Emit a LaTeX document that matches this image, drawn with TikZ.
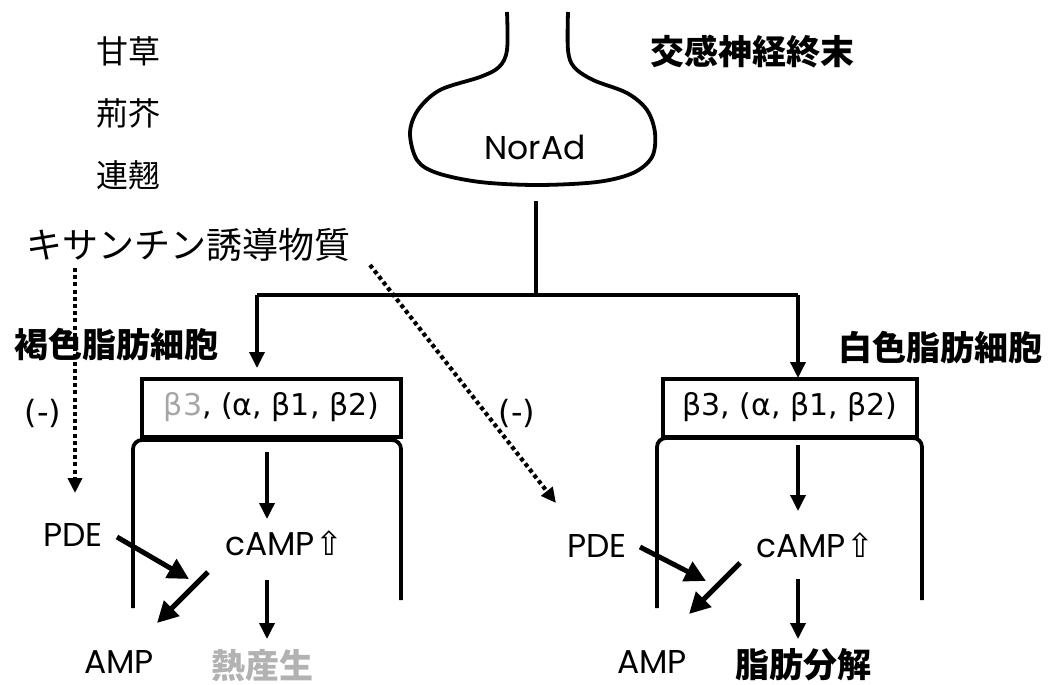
\documentclass[tikz,border=0pt]{standalone}
\usepackage{fontspec}
\usetikzlibrary{arrows.meta}
\newfontfamily\jp{Noto Sans CJK JP}
\newfontfamily\lat{Poppins}
\newfontfamily\dv{DejaVu Sans}
\tikzset{
  wall/.style={line width=3.8pt},
  arr/.style={line width=3.5pt,-{Triangle[length=16pt,width=15pt]}},
  bigarr/.style={line width=5pt,-{Triangle[length=21pt,width=21pt]}},
  dotarr/.style={line width=4.2pt,dash pattern=on 4pt off 3.2pt,-{Triangle[length=15pt,width=14pt]}},
  jptxt/.style={font=\jp\fontsize{32}{32}\selectfont, inner sep=0pt},
  jpbold/.style={font=\jp\bfseries\fontsize{34}{34}\selectfont, inner sep=0pt},
  lab/.style={font=\lat\fontsize{33}{33}\selectfont, inner sep=0pt},
  minus/.style={font=\dv\fontsize{32}{32}\selectfont, inner sep=0pt},
  recbox/.style={draw, line width=4pt, font=\dv\fontsize{30}{30}\selectfont, inner sep=0pt, minimum height=58pt},
}
\begin{document}
\begin{tikzpicture}[x=1pt,y=-1pt]
\useasboundingbox (0,0) rectangle (1060,685);
% herbs
\node[jptxt] (t1) at (128,51) {甘草};
\node[jptxt] (t2) at (128,113) {荊芥};
\node[jptxt] (t3) at (128,175) {連翹};
\node[jptxt,font=\jp\fontsize{36}{36}\selectfont] (xan) at (189,245) {キサンチン誘導物質};
\node[jpbold] (sym) at (752,52) {交感神経終末};
\node[jpbold] (brown) at (116,345) {褐色脂肪細胞};
\node[jpbold] (white) at (940,348) {白色脂肪細胞};
\node[minus] (m1) at (43,413) {(-)};
\node[minus] (m2) at (517,413) {(-)};
% nerve terminal
\draw[wall] plot[smooth,tension=0.55] coordinates {(507,12) (507,50) (499,67) (480,77) (440,90) (418,110) (410,133) (417,160) (437,173) (480,182) (537,185) (597,182) (633,173) (652,157) (655,133) (647,110) (627,93) (593,80) (574,67) (568,50) (568,12)};
\node[lab] (nor) at (535,147) {NorAd};
% branch
\coordinate (nb) at (536,201);
\coordinate (j) at (536,295);
\coordinate (jl) at (257,295);
\coordinate (jr) at (798,295);
\coordinate (tl) at (257,368);
\coordinate (tr) at (798,378);
\draw[line width=3.5pt] (nb) -- (j);
\draw[line width=3.5pt] (jl) -- (jr);
\draw[arr] (jl) -- (tl);
\draw[arr] (jr) -- (tr);
% boxes
\node[recbox, minimum width=259pt] (lbox) at (271.5,407.5) {\textcolor{black!35}{β3}, (α, β1, β2)};
\node[recbox, minimum width=254pt] (rbox) at (790,407.5) {β3, (α, β1, β2)};
% cells
\draw[wall,rounded corners=9pt] (133,608) |- (401,440) -- (401,600);
\draw[wall,rounded corners=9pt] (657,608) |- (922,438) -- (922,600);
% left cell contents
\node[lab] (pdeL) at (73,535) {PDE};
\node[lab] (campL) at (284,543) {cAMP{\dv ⇧}};
\node[lab] (ampL) at (119,662) {AMP};
\node[jptxt,font=\jp\bfseries\fontsize{34}{34}\selectfont,text=black!30] (heat) at (262,666) {熱産生};
\coordinate (la1) at (267,452);
\coordinate (la2) at (267,519);
\coordinate (la3) at (267,580);
\coordinate (la4) at (267,639);
\draw[arr] (la1) -- (la2);
\draw[arr] (la3) -- (la4);
\coordinate (lp1) at (117,537);
\coordinate (lp2) at (189,579);
\coordinate (lc1) at (208,572);
\coordinate (lc2) at (157,623);
\draw[bigarr] (lp1) -- (lp2);
\draw[bigarr] (lc1) -- (lc2);
% right cell contents
\node[lab] (pdeR) at (597,546) {PDE};
\node[lab] (campR) at (815,545) {cAMP{\dv ⇧}};
\node[lab] (ampR) at (652,662) {AMP};
\node[jpbold] (lip) at (803,665) {脂肪分解};
\coordinate (ra1) at (798,445);
\coordinate (ra2) at (798,511);
\coordinate (ra3) at (798,579);
\coordinate (ra4) at (798,639);
\draw[arr] (ra1) -- (ra2);
\draw[arr] (ra3) -- (ra4);
\coordinate (rp1) at (640,547);
\coordinate (rp2) at (706,581);
\coordinate (rc1) at (740,563);
\coordinate (rc2) at (689,614);
\draw[bigarr] (rp1) -- (rp2);
\draw[bigarr] (rc1) -- (rc2);
% inhibitory dotted arrows
\coordinate (d1) at (75,268);
\coordinate (d1e) at (75,493);
\coordinate (d2) at (370,265);
\coordinate (d2e) at (556,503);
\draw[dotarr] (d1) -- (d1e);
\draw[dotarr] (d2) -- (d2e);
\end{tikzpicture}
\end{document}
